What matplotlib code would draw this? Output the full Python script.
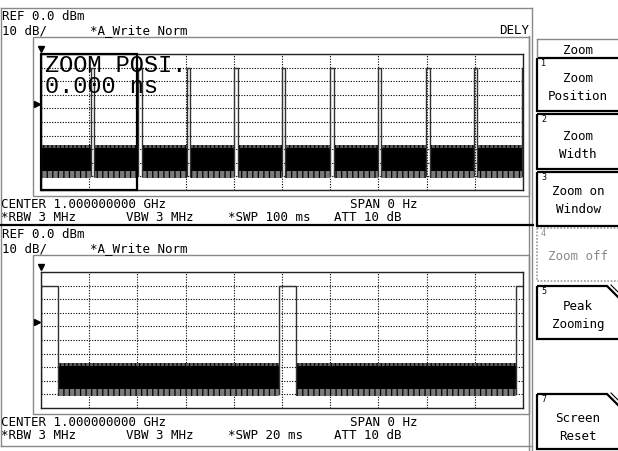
import matplotlib
matplotlib.use('Agg')
import matplotlib.pyplot as plt
from matplotlib.patches import Rectangle, Polygon
import matplotlib.transforms as mtransforms
import numpy as np

W, H = 618, 452
plt.rcParams['hatch.linewidth'] = 0.9
plt.rcParams['hatch.color'] = 'black'

# ---------------- data ----------------
top_sweep_ms = 100
bot_sweep_ms = 20
zoom_window_ms = [0.0, 20.0]
pulse_times_top_ms = [10.3, 20.2, 30.2, 40.1, 50.0, 60.0, 69.9, 79.9, 89.8, 99.7]
pulse_times_bot_ms = [0.0, 9.88, 19.71]
pulse_width_ms = 0.72
pulse_level_dbm = -10.0
noise_fuzz_top_dbm = -67.0
noise_core_top_dbm = -69.0
noise_core_bot_dbm = -86.0
noise_fuzz_bot_dbm = -91.0
trigger_level_dbm = -36.5
ref_level_dbm = 0.0
db_per_div = 10

top_header = ["REF 0.0 dBm", "10 dB/", "*A_Write Norm", "DELY"]
top_footer = ["CENTER 1.000000000 GHz", "SPAN 0 Hz", "*RBW 3 MHz", "VBW 3 MHz", "*SWP 100 ms", "ATT 10 dB"]
bot_header = ["REF 0.0 dBm", "10 dB/", "*A_Write Norm"]
bot_footer = ["CENTER 1.000000000 GHz", "SPAN 0 Hz", "*RBW 3 MHz", "VBW 3 MHz", "*SWP 20 ms", "ATT 10 dB"]
zoom_overlay = ["ZOOM POSI.", "0.000 ns"]
menu_title = "Zoom"
softkeys = [("1", "Zoom", "Position"), ("2", "Zoom", "Width"), ("3", "Zoom on", "Window"),
            ("4", "Zoom off", ""), ("5", "Peak", "Zooming"), ("7", "Screen", "Reset")]

MONO = 'DejaVu Sans Mono'
FS = 9.0

fig = plt.figure(figsize=(W / 100, H / 100), dpi=100)
ov = fig.add_axes([0, 0, 1, 1], zorder=0)
ov.set_xlim(0, W)
ov.set_ylim(H, 0)
ov.axis('off')


def axrect(l, t, r, b):
    return [l / W, 1 - b / H, (r - l) / W, (b - t) / H]


def draw_panel(ax, sweep, pulses):
    ax.set_xlim(0, sweep)
    ax.set_ylim(ref_level_dbm - 10 * db_per_div, ref_level_dbm)
    ax.set_xticks(np.linspace(0, sweep, 11))
    ax.set_yticks(np.arange(-100, 1, 10))
    ax.tick_params(length=0, labelbottom=False, labelleft=False)
    ax.set_axisbelow(True)
    ax.grid(True, color='black', linestyle=(0, (1, 1.4)), linewidth=0.8)
    for s in ax.spines.values():
        s.set_color('#222')
        s.set_linewidth(1.0)
    starts = [0.0] + [t + pulse_width_ms for t in pulses]
    ends = list(pulses) + [sweep]
    for a, b in zip(starts, ends):
        if b - a <= 0:
            continue
        ax.fill_between([a, b], noise_core_bot_dbm, noise_core_top_dbm, color='black', lw=0)
        ax.fill_between([a, b], noise_core_top_dbm, noise_fuzz_top_dbm, facecolor='#5a5a5a',
                        edgecolor='black', hatch='||||', lw=0)
        ax.fill_between([a, b], noise_fuzz_bot_dbm, noise_core_bot_dbm, facecolor='#7a7a7a',
                        edgecolor='black', hatch='|||', lw=0)
    for t in pulses:
        ax.plot([t, t, t + pulse_width_ms, t + pulse_width_ms],
                [noise_fuzz_bot_dbm + 1, pulse_level_dbm, pulse_level_dbm, noise_fuzz_bot_dbm + 1],
                color='#333', lw=1.0)
    trans = mtransforms.blended_transform_factory(ax.transData, ax.transAxes)
    ax.plot([0], [1.035], marker='v', ms=5, color='black', transform=trans, clip_on=False)
    trans2 = mtransforms.blended_transform_factory(ax.transAxes, ax.transData)
    ax.plot([-0.009], [trigger_level_dbm], marker='>', ms=5, color='black', transform=trans2, clip_on=False)


ax_top = fig.add_axes(axrect(41, 55, 523, 191), zorder=2)
draw_panel(ax_top, top_sweep_ms, pulse_times_top_ms)
ax_top.add_patch(Rectangle((zoom_window_ms[0], -100), zoom_window_ms[1] - zoom_window_ms[0], 100,
                           fill=False, ec='black', lw=1.6, clip_on=False, zorder=5))
ax_top.text(0.008, 0.925, zoom_overlay[0], transform=ax_top.transAxes, family='Liberation Mono',
            fontsize=17, va='center', ha='left', zorder=6)
ax_top.text(0.008, 0.772, zoom_overlay[1], transform=ax_top.transAxes, family='Liberation Mono',
            fontsize=17, va='center', ha='left', zorder=6)

ax_bot = fig.add_axes(axrect(41, 273, 523, 409), zorder=2)
draw_panel(ax_bot, bot_sweep_ms, pulse_times_bot_ms)

# ---------------- frames ----------------
G = '#888888'
ov.plot([1, 532], [9, 9], color=G, lw=1)
ov.plot([1, 1], [9, 447], color=G, lw=1)
ov.plot([532, 532], [9, 452], color=G, lw=1)
ov.plot([529, 529], [37, 452], color=G, lw=1)
ov.plot([1, 532], [447, 447], color=G, lw=1)
for off in (0, 218):
    ov.add_patch(Rectangle((33, 38 + off), 529 - 33, 159, fill=False, ec=G, lw=1))
ov.plot([0, 533], [226, 226], color='black', lw=1.6)


def txt(x, y, s, ha='left', **kw):
    ov.text(x, y, s, ha=ha, va='center', family=MONO, fontsize=kw.pop('fs', FS), **kw)


for off, hdr, ftr in ((0, top_header, top_footer), (218, bot_header, bot_footer)):
    txt(2, 16.5 + off, hdr[0])
    txt(2, 31 + off, hdr[1])
    txt(90, 31 + off, hdr[2])
    if len(hdr) > 3:
        txt(529, 31 + off, hdr[3], ha='right')
    txt(1, 205 + off, ftr[0])
    txt(350, 205 + off, ftr[1])
    txt(1, 218 + off, ftr[2])
    txt(126, 218 + off, ftr[3])
    txt(228, 218 + off, ftr[4])
    txt(334, 218 + off, ftr[5])

# ---------------- soft keys ----------------
ov.plot([537, 620], [40, 40], color=G, lw=1)
ov.plot([537, 537], [40, 58], color=G, lw=1)
txt(578, 50, menu_title, ha='center')

boxes = [(59, 112), (115, 170), (173, 227), (229, 282), (287, 340), (395, 450)]
line1_dy = [20, 22, 19, 28, 20, 24]
for i, ((num, l1, l2), (y0, y1)) in enumerate(zip(softkeys, boxes)):
    if num == "4":
        ov.add_patch(Rectangle((537, y0), 90, y1 - y0, fill=False, ec='#9a9a9a', lw=1.2, ls=(0, (1, 1))))
        col = '#8a8a8a'
    elif num in ("5", "7"):
        ov.add_patch(Polygon([(537, y0), (607, y0), (620, y0 + 13), (620, y1), (537, y1)],
                             closed=True, fill=False, ec='black', lw=1.6))
        ov.plot([611, 620], [y0 - 1, y0 + 8], color='black', lw=0.8)
        col = 'black'
    else:
        ov.add_patch(Rectangle((537, y0), 90, y1 - y0, fill=False, ec='black', lw=1.6))
        col = 'black'
    txt(541, y0 + 5, num, fs=6, color=col)
    txt(578, y0 + line1_dy[i], l1, ha='center', color=col)
    if l2:
        txt(578, y0 + line1_dy[i] + 18, l2, ha='center', color=col)

fig.savefig('out.png', dpi=100)
